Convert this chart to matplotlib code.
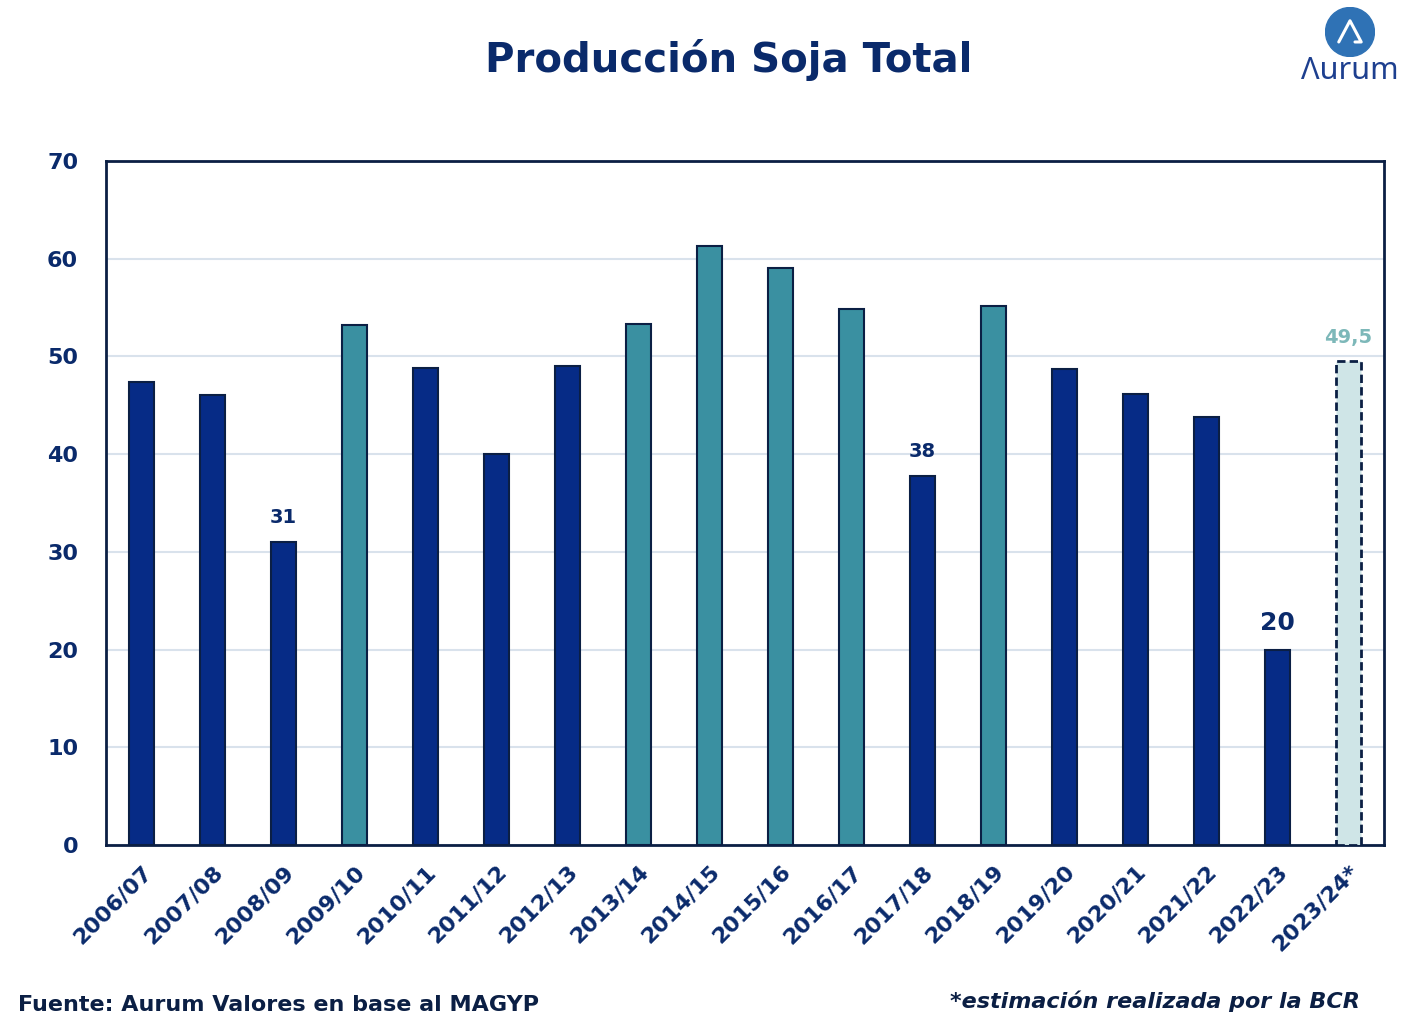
import matplotlib.pyplot as plt
from matplotlib.patches import Circle

campanias = ["2006/07", "2007/08", "2008/09", "2009/10", "2010/11", "2011/12",
             "2012/13", "2013/14", "2014/15", "2015/16", "2016/17", "2017/18",
             "2018/19", "2019/20", "2020/21", "2021/22", "2022/23", "2023/24*"]
produccion = [47.4, 46.1, 31.0, 53.2, 48.8, 40.0, 49.0, 53.3, 61.3, 59.1,
              54.9, 37.8, 55.2, 48.7, 46.2, 43.8, 20.0, 49.5]
# tipo de barra: 0 = normal, 1 = record (teal), 2 = estimacion
tipo = [0, 0, 0, 1, 0, 0, 0, 1, 1, 1, 1, 0, 1, 0, 0, 0, 0, 2]
etiquetas = {2: "31", 11: "38", 16: "20", 17: "49,5"}

AZUL = "#062B86"
TEAL = "#3A90A1"
CLARO = "#CFE5E7"
BORDE = "#0B1F44"
TXT = "#0A2A6B"

plt.rcParams['font.family'] = ['DejaVu Sans']

fig = plt.figure(figsize=(14.2, 10.32), dpi=100)
ax = fig.add_axes([0.0746, 0.1812, 0.9, 0.6628])

colores = [AZUL, TEAL, CLARO]
x = range(len(campanias))
for i, v in enumerate(produccion):
    if tipo[i] == 2:
        ax.bar(i, v, width=0.34, color=CLARO, edgecolor=BORDE, linewidth=2,
               linestyle=(0, (3, 1.5)), zorder=3)
    else:
        ax.bar(i, v, width=0.34, color=colores[tipo[i]], edgecolor=BORDE,
               linewidth=1.5, zorder=3)

for i, lab in etiquetas.items():
    size = 18 if lab == "20" else 14
    col = "#7DB8B9" if i == 17 else TXT
    ax.text(i, produccion[i] + 1.5, lab, ha="center", va="bottom",
            fontsize=size, fontweight="bold", color=col)

ax.set_xlim(-0.5, len(campanias) - 0.5)
ax.set_ylim(0, 70)
ax.set_yticks(range(0, 71, 10))
ax.yaxis.grid(True, color="#D9E2EC", linewidth=1.5, zorder=0)
ax.set_axisbelow(True)
ax.set_xticks(list(x))
ax.set_xticklabels(campanias, rotation=45, ha="right", rotation_mode="anchor",
                   fontsize=16, fontweight="bold", color=TXT)
for lab in ax.get_yticklabels():
    lab.set_fontsize(16)
    lab.set_fontweight("bold")
    lab.set_color(TXT)
ax.tick_params(axis="both", length=0)
ax.tick_params(axis="y", pad=20)
ax.tick_params(axis="x", pad=12)
for s in ax.spines.values():
    s.set_color(BORDE)
    s.set_linewidth(2)

fig.text(0.513, 0.942, "Producción Soja Total", ha="center", va="center",
         fontsize=29, fontweight="heavy", color=TXT)

fig.text(0.013, 0.026, "Fuente: Aurum Valores en base al MAGYP", ha="left",
         va="center", fontsize=16, fontweight="bold", color=BORDE)
fig.text(0.958, 0.030, "*estimación realizada por la BCR", ha="right",
         va="center", fontsize=16, fontweight="bold", style="italic", color=BORDE)

# logo
lax = fig.add_axes([0.9331, 0.9448, 0.0352, 0.0484])
lax.set_xlim(-1, 1)
lax.set_ylim(-1, 1)
lax.set_aspect("equal")
lax.axis("off")
lax.add_patch(Circle((0, 0), 0.98, color="#2F72B5"))
lax.plot([-0.45, 0.0, 0.45, 0.2], [-0.4, 0.45, -0.4, -0.4], color="white",
         linewidth=2.2, solid_capstyle="round")
fig.text(0.9507, 0.931, "\u039burum", ha="center", va="center", fontsize=22,
         color="#1D3F8F", family=["Noto Sans", "DejaVu Sans"])

fig.savefig("out.png", dpi=100, facecolor="white")
